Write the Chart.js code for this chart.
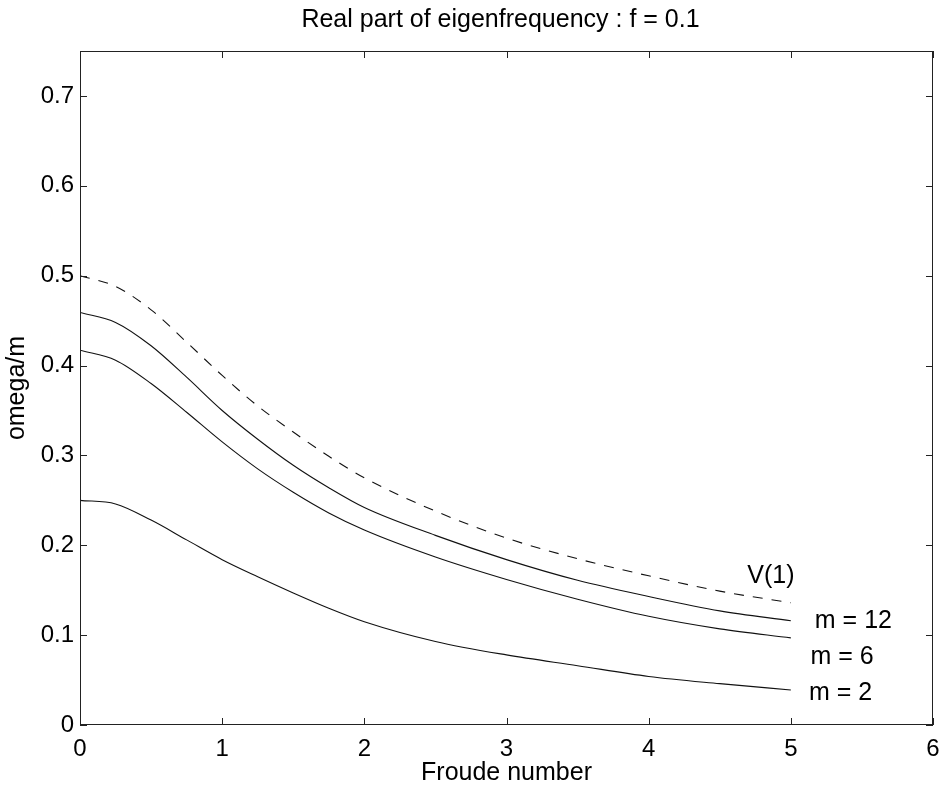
<!DOCTYPE html>
<html>
<head>
<meta charset="utf-8">
<script src="https://cdn.jsdelivr.net/npm/chart.js@4/dist/chart.umd.min.js"></script>
<style>
  html, body { margin: 0; padding: 0; background: #fff; }
  #wrap { width: 943px; height: 789px; }
</style>
</head>
<body>
<div id="wrap"><canvas id="myChart" width="943" height="789"></canvas></div>
<script>
    // Froude number samples
    const froude = [0, 0.25, 0.5, 0.75, 1, 1.25, 1.5, 1.75, 2, 2.5, 3, 3.5, 4, 4.5, 5];
    // omega/m
    const v1 = [0.500, 0.488, 0.462, 0.426, 0.389, 0.355, 0.326, 0.299, 0.275, 0.238, 0.208, 0.185, 0.166, 0.149, 0.136];
    const m12 = [0.459, 0.448, 0.422, 0.387, 0.350, 0.318, 0.289, 0.264, 0.242, 0.211, 0.184, 0.161, 0.143, 0.127, 0.116];
    const m6 = [0.417, 0.406, 0.380, 0.348, 0.315, 0.285, 0.259, 0.236, 0.217, 0.187, 0.162, 0.140, 0.121, 0.107, 0.097];
    const m2 = [0.250, 0.246, 0.228, 0.206, 0.184, 0.165, 0.147, 0.130, 0.115, 0.093, 0.078, 0.066, 0.054, 0.046, 0.039];

    // curve labels (text, x, y in data units)
    const curveLabels = [
        { text: 'V(1)', x: 4.86, y: 0.166 },
        { text: 'm = 12', x: 5.44, y: 0.116 },
        { text: 'm = 6', x: 5.36, y: 0.075 },
        { text: 'm = 2', x: 5.35, y: 0.036 }
    ];

    const chartTitle = 'Real part of eigenfrequency : f = 0.1';
    const FONT = '"Liberation Sans", Arial, Helvetica, sans-serif';

    function toPoints(ys) {
        return froude.map((value, index) => ({ x: value, y: ys[index] }));
    }

    function lineSet(label, ys, dash) {
        return {
            label: label,
            data: toPoints(ys),
            showLine: true,
            fill: false,
            pointRadius: 0,
            pointHoverRadius: 0,
            borderWidth: 1.1,
            borderColor: '#111',
            borderDash: dash,
            cubicInterpolationMode: 'monotone'
        };
    }

    // box round the plot, ticks pointing inwards, title and curve labels
    const boxPlugin = {
        id: 'box',
        afterDraw(chart) {
            const c = chart.ctx;
            const a = chart.chartArea;
            const xs = chart.scales.x;
            const ys = chart.scales.y;
            const len = 7;
            c.save();
            c.strokeStyle = '#222';
            c.lineWidth = 1;
            c.strokeRect(a.left + 0.5, a.top + 0.5, a.right - a.left - 1, a.bottom - a.top - 1);
            c.beginPath();
            xs.ticks.forEach(t => {
                const px = Math.round(xs.getPixelForValue(t.value)) + 0.5;
                c.moveTo(px, a.bottom); c.lineTo(px, a.bottom - len);
                c.moveTo(px, a.top); c.lineTo(px, a.top + len);
            });
            ys.ticks.forEach(t => {
                const py = Math.round(ys.getPixelForValue(t.value)) + 0.5;
                c.moveTo(a.left, py); c.lineTo(a.left + len, py);
                c.moveTo(a.right, py); c.lineTo(a.right - len, py);
            });
            c.stroke();

            c.fillStyle = '#000';
            c.textAlign = 'center';
            c.textBaseline = 'middle';
            c.font = '25px ' + FONT;
            c.fillText(chartTitle, (a.left + a.right) / 2 - 6, 20);

            curveLabels.forEach(l => {
                c.fillText(l.text, xs.getPixelForValue(l.x), ys.getPixelForValue(l.y));
            });
            c.restore();
        }
    };

    var ctx = document.getElementById('myChart').getContext('2d');

    var scatterChart = new Chart(ctx, {
        type: 'scatter',
        data: {
            datasets: [
                lineSet('V(1)', v1, [10, 9]),
                lineSet('m = 12', m12, []),
                lineSet('m = 6', m6, []),
                lineSet('m = 2', m2, [])
            ]
        },
        options: {
            responsive: false,
            animation: false,
            layout: { padding: { left: 0, right: 10, top: 51, bottom: 0 } },
            plugins: {
                legend: { display: false },
                tooltip: { enabled: false },
                title: { display: false }
            },
            scales: {
                x: {
                    type: 'linear',
                    position: 'bottom',
                    min: 0,
                    max: 6,
                    grid: { display: false, drawTicks: false },
                    border: { display: false },
                    ticks: {
                        stepSize: 1,
                        padding: 10,
                        color: '#000',
                        font: { family: FONT, size: 24 }
                    },
                    title: {
                        display: true,
                        text: 'Froude number',
                        color: '#000',
                        font: { family: FONT, size: 25 },
                        padding: { top: 0, bottom: 1 }
                    },
                    afterFit: function (scale) {
                        scale.height = 64;
                        scale.paddingLeft = 0;
                        scale.paddingRight = 0;
                    }
                },
                y: {
                    min: 0,
                    max: 0.75,
                    grid: { display: false, drawTicks: false },
                    border: { display: false },
                    ticks: {
                        stepSize: 0.1,
                        includeBounds: false,
                        padding: 6,
                        color: '#000',
                        font: { family: FONT, size: 24 },
                        callback: function (v) { return v === 0 ? '0' : v.toFixed(1); }
                    },
                    title: {
                        display: true,
                        text: 'omega/m',
                        color: '#000',
                        font: { family: FONT, size: 25 },
                        padding: { top: 2, bottom: 0 }
                    },
                    afterFit: function (scale) {
                        scale.width = 80;
                        scale.paddingTop = 0;
                        scale.paddingBottom = 0;
                    }
                }
            }
        },
        plugins: [boxPlugin]
    });
</script>
</body>
</html>
